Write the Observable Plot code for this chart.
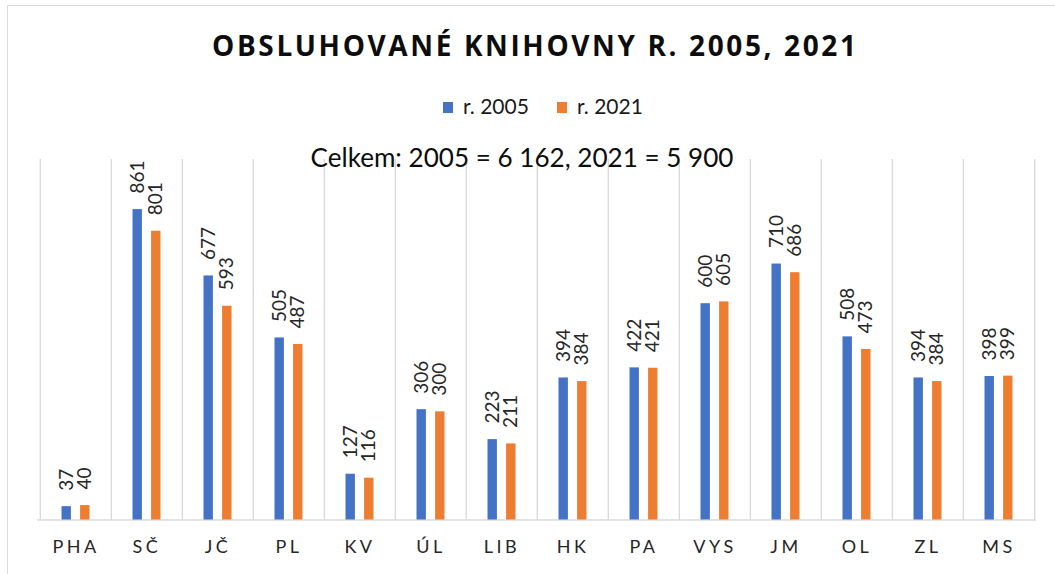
<!DOCTYPE html>
<html>
<head>
<meta charset="utf-8">
<script src="https://cdn.jsdelivr.net/npm/d3@7"></script>
<script src="https://cdn.jsdelivr.net/npm/@observablehq/plot@0.6"></script>
<style>
  body { margin: 0; background: #fff; }
  #wrap { position: relative; width: 1055px; height: 574px; overflow: hidden; background: #fff; }
  #frame { position: absolute; left: 7px; top: 5px; width: 1200px; height: 700px; border: 1.3px solid #d9d9d9; box-sizing: border-box; }
  #head { position: absolute; left: 0; top: 0; }
  #chart { position: absolute; left: 0; top: 150px; }
  #chart svg [aria-label="x-axis tick label"] text { letter-spacing: 3.5px; }
</style>
</head>
<body>
<div id="wrap">
  <div id="frame"></div>
  <svg id="head" width="1055" height="150"></svg>
  <div id="chart"></div>
</div>
<script>
// ---- data ----
const categories = ["PHA", "SČ", "JČ", "PL", "KV", "ÚL", "LIB", "HK", "PA", "VYS", "JM", "OL", "ZL", "MS"];
const values2005 = [37, 861, 677, 505, 127, 306, 223, 394, 422, 600, 710, 508, 394, 398];
const values2021 = [40, 801, 593, 487, 116, 300, 211, 384, 421, 605, 686, 473, 384, 399];
const seriesNames = ["r. 2005", "r. 2021"];
const seriesColors = ["#4472C4", "#ED7D31"];
const titleText = "OBSLUHOVANÉ KNIHOVNY R. 2005, 2021";
const totalText = "Celkem: 2005 = 6 162, 2021 = 5 900";

const rows2005 = categories.map((c, i) => ({cat: c, v: values2005[i]}));
const rows2021 = categories.map((c, i) => ({cat: c, v: values2021[i]}));

// ---- header (title + legend) ----
const ctx = document.createElement("canvas").getContext("2d");
function measure(text, font) { ctx.font = font; return ctx.measureText(text).width; }

const head = d3.select("#head");
const titleSize = 28;
const titleTarget = 644;
const natural = measure(titleText, `700 ${titleSize}px "Open Sans"`);
const spacing = Math.max(0, (titleTarget - natural) / (titleText.length - 1));
head.append("text")
  .attr("x", 212).attr("y", 56)
  .attr("font-family", "Open Sans").attr("font-weight", 700).attr("font-size", titleSize)
  .attr("letter-spacing", spacing)
  .attr("fill", "#0d0d0d")
  .text(titleText);

const legFs = 66 / measure("r. 2005", "1px Lato");
const legX = [443, 557];
seriesNames.forEach((name, i) => {
  head.append("rect").attr("x", legX[i]).attr("y", 102).attr("width", 10).attr("height", 11).attr("fill", seriesColors[i]);
  head.append("text").attr("x", legX[i] + 20).attr("y", 114)
    .attr("font-family", "Lato").attr("font-size", legFs).attr("fill", "#1a1a1a")
    .text(name);
});

const totalFs = 423 / measure(totalText, "1px Lato");

// ---- chart ----
const off = 9.3, inset = 30.8;
const labelStyle = {fontSize: 19, fontFamily: "Lato", fill: "#262626", rotate: -90, textAnchor: "start", lineAnchor: "middle", dy: -16};
const plot = Plot.plot({
  width: 1055,
  height: 424,
  marginLeft: 37,
  marginRight: 19,
  marginTop: 9,
  marginBottom: 54.5,
  style: {fontFamily: "Lato", background: "transparent", overflow: "visible"},
  x: {domain: categories, padding: 0, label: null, tickSize: 0, tickPadding: 20},
  y: {domain: [0, 1000], axis: null},
  marks: [
    Plot.ruleX(categories, {x: d => d, dx: -999 / 28, stroke: "#d9d9d9", strokeWidth: 1.4}),
    Plot.ruleX(categories.slice(-1), {x: d => d, dx: 999 / 28, stroke: "#d9d9d9", strokeWidth: 1.4}),
    Plot.ruleY([0], {stroke: "#d9d9d9", strokeWidth: 1.6}),
    Plot.barY(rows2005, {x: "cat", y: "v", fill: seriesColors[0], insetLeft: inset, insetRight: inset, dx: -off}),
    Plot.barY(rows2021, {x: "cat", y: "v", fill: seriesColors[1], insetLeft: inset, insetRight: inset, dx: off}),
    Plot.text(rows2005, {x: "cat", y: "v", text: d => String(d.v), dx: -off, ...labelStyle}),
    Plot.text(rows2021, {x: "cat", y: "v", text: d => String(d.v), dx: off, ...labelStyle}),
    Plot.text([totalText], {frameAnchor: "top", lineAnchor: "bottom", dy: 7, dx: -15, fontSize: totalFs, fontFamily: "Lato", fill: "#0d0d0d"})
  ]
});
d3.select(plot).selectAll('[aria-label="x-axis tick label"]')
  .attr("font-size", 18).attr("fill", "#262626");
document.getElementById("chart").appendChild(plot);
</script>
</body>
</html>
